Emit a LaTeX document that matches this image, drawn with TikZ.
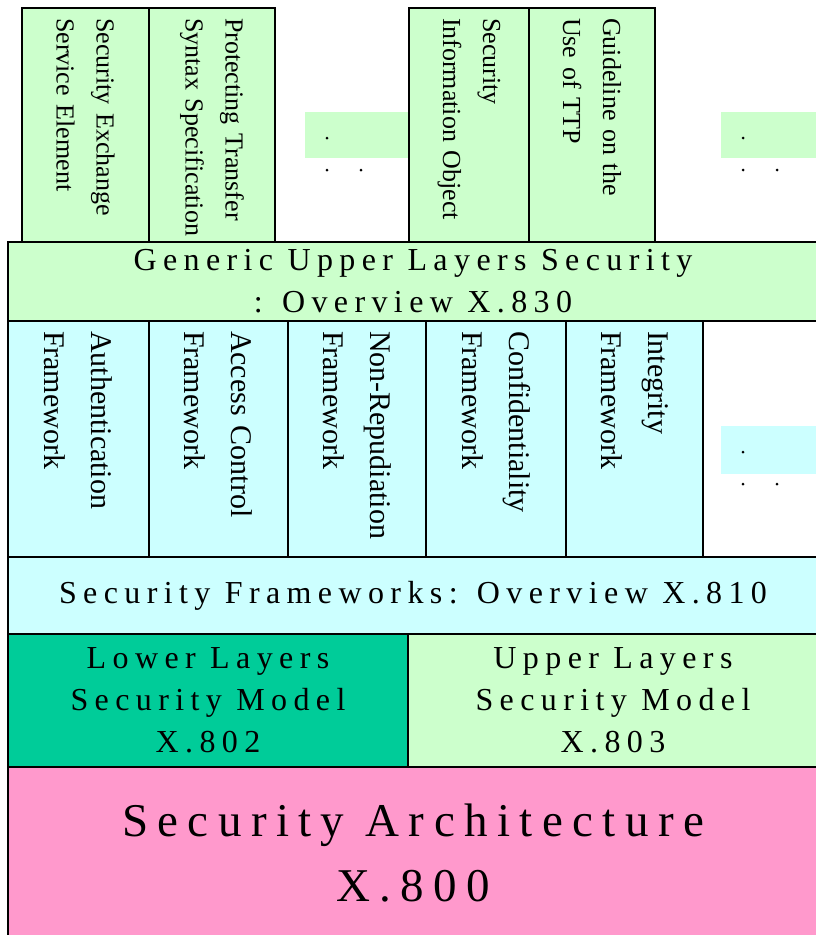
\documentclass[tikz,border=0pt]{standalone}
\usepackage{fontspec}
\setmainfont{Liberation Serif}
\newfontfamily\bandfont[LetterSpace=20]{Liberation Serif}
\newfontfamily\colfont{Liberation Serif}
\definecolor{paleGreen}{HTML}{CCFFCC}
\definecolor{paleCyan}{HTML}{CCFFFF}
\definecolor{seaGreen}{HTML}{00CC99}
\definecolor{rosePink}{HTML}{FF99CC}
\begin{document}
\begin{tikzpicture}[x=1pt, y=-1pt]
\tikzstyle{every node}=[draw=black, line width=1.6pt, inner sep=0pt]
\tikzstyle{col}=[rotate=-90, align=left, inner xsep=10pt]
\tikzstyle{topcol}=[col, fill=paleGreen, text width=220, font=\colfont\fontsize{26}{40}\selectfont]
\tikzstyle{fwcol}=[col, fill=paleCyan, minimum width=236, text width=216, font=\colfont\fontsize{30}{47}\selectfont]
\tikzstyle{band}=[align=center, font=\bandfont\fontsize{32}{42}\selectfont]
\tikzstyle{more}=[draw=none, minimum height=46]
\clip (0,0) rectangle (816,935);
% gaps in the rows
\node[more, fill=paleGreen, minimum width=104] (more1) at (357,135) {};
\node[more, fill=paleGreen, minimum width=97] (more2) at (769.5,135) {};
\node[more, fill=paleCyan, minimum width=97, minimum height=48] (more3) at (769.5,450) {};
\foreach \x/\y in {327/138, 743/138, 743/452}
  \fill (\x,\y) circle (1.5) (\x,\y+32) circle (1.5) (\x+34,\y+32) circle (1.5);
% upper layers documents (lower edge hidden under the band)
\node[topcol, minimum height=127] (sese) at (85.5,128) {Security Exchange\\Service Element};
\node[topcol, minimum height=126] (ptss) at (212,128) {Protecting Transfer\\Syntax Specification};
\node[topcol, minimum height=120] (sio) at (469,128) {Security\\Information Object};
\node[topcol, minimum height=126] (ttp) at (592,128) {Guideline on the\\Use of TTP};
\node[band, fill=paleGreen, minimum width=810, minimum height=79] (x830) at (413,281.5) {Generic Upper Layers Security\\: Overview X.830};
% frameworks
\node[fwcol, minimum height=141] (authfw) at (78.5,439) {Authentication\\Framework};
\node[fwcol, minimum height=139] (accfw) at (218.5,439) {Access Control\\Framework};
\node[fwcol, minimum height=138] (nrfw) at (357,439) {Non-Repudiation\\Framework};
\node[fwcol, minimum height=140] (conffw) at (496,439) {Confidentiality\\Framework};
\node[fwcol, minimum height=137] (intfw) at (634.5,439) {Integrity\\Framework};
\node[band, fill=paleCyan, minimum width=810, minimum height=77] (x810) at (413,595.5) {Security Frameworks: Overview X.810};
% models
\node[band, fill=seaGreen, minimum width=400, minimum height=133] (x802) at (208,700.5) {Lower Layers\\Security Model\\X.802};
\node[band, fill=paleGreen, minimum width=410, minimum height=133] (x803) at (613,700.5) {Upper Layers\\Security Model\\X.803};
\node[band, fill=rosePink, minimum width=810, minimum height=173, font=\bandfont\fontsize{47}{65}\selectfont] (x800) at (413,853.5) {Security Architecture\\X.800};
\end{tikzpicture}
\end{document}
